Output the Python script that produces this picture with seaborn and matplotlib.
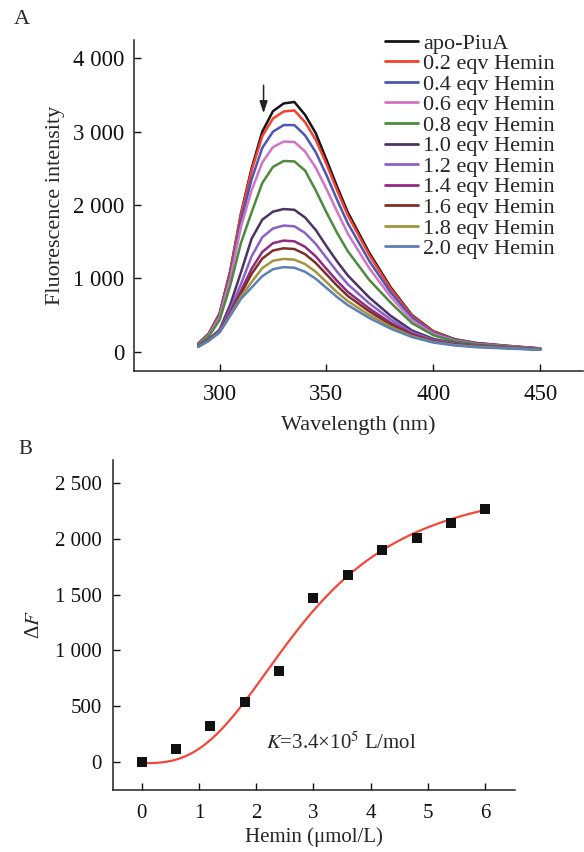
import numpy as np
import pandas as pd
import matplotlib
matplotlib.use("Agg")
import matplotlib.pyplot as plt
import seaborn as sns

# ---------------- Data ----------------
wavelength = [290, 295, 300, 305, 310, 315, 320, 325, 330, 335, 340, 345, 350,
              355, 360, 370, 380, 390, 400, 410, 420, 435, 450]

series_labels = ["apo-PiuA", "0.2 eqv Hemin", "0.4 eqv Hemin", "0.6 eqv Hemin",
                 "0.8 eqv Hemin", "1.0 eqv Hemin", "1.2 eqv Hemin", "1.4 eqv Hemin",
                 "1.6 eqv Hemin", "1.8 eqv Hemin", "2.0 eqv Hemin"]

apo   = [110, 250, 520, 1100, 1880, 2500, 3000, 3280, 3385, 3405, 3230, 2980, 2620, 2250, 1900, 1350, 880, 500, 280, 170, 120, 80, 45]
eq02  = [105, 245, 510, 1090, 1870, 2470, 2940, 3180, 3275, 3290, 3130, 2890, 2560, 2200, 1860, 1320, 860, 490, 275, 165, 115, 78, 44]
eq04  = [100, 235, 490, 1040, 1780, 2350, 2780, 3000, 3090, 3090, 2950, 2720, 2410, 2070, 1750, 1240, 810, 465, 260, 160, 112, 75, 42]
eq06  = [95, 225, 470, 990, 1700, 2200, 2580, 2790, 2865, 2860, 2730, 2510, 2220, 1910, 1610, 1140, 750, 430, 245, 150, 105, 72, 40]
eq08  = [90, 210, 430, 900, 1480, 1900, 2300, 2520, 2600, 2595, 2470, 2200, 1900, 1620, 1370, 980, 670, 390, 225, 140, 100, 68, 38]
eq10  = [75, 170, 300, 640, 1080, 1540, 1800, 1910, 1945, 1935, 1830, 1660, 1440, 1230, 1040, 740, 490, 290, 175, 115, 85, 60, 35]
eq12  = [72, 165, 285, 580, 920, 1300, 1560, 1680, 1720, 1710, 1620, 1470, 1280, 1090, 920, 660, 440, 265, 160, 108, 80, 57, 33]
eq14  = [70, 160, 275, 540, 830, 1130, 1360, 1480, 1515, 1505, 1430, 1300, 1130, 965, 815, 590, 395, 240, 148, 100, 75, 53, 31]
eq16  = [68, 155, 268, 510, 790, 1060, 1270, 1380, 1410, 1400, 1330, 1210, 1055, 900, 760, 550, 370, 228, 140, 95, 72, 51, 30]
eq18  = [66, 150, 262, 500, 750, 950, 1140, 1240, 1265, 1255, 1195, 1090, 950, 810, 690, 500, 340, 212, 132, 90, 68, 48, 28]
eq20  = [65, 150, 265, 490, 720, 875, 1030, 1125, 1153, 1145, 1090, 995, 870, 745, 635, 460, 315, 200, 125, 85, 62, 43, 25]
spectra = [apo, eq02, eq04, eq06, eq08, eq10, eq12, eq14, eq16, eq18, eq20]

line_colors = ["#151515", "#f5402f", "#4b57b3", "#d274c6", "#4c8a3c", "#4b3462",
               "#8a62c6", "#922a84", "#7f3026", "#a3953f", "#5d80b8"]

# Panel B
hemin = [0, 0.6, 1.2, 1.8, 2.4, 3.0, 3.6, 4.2, 4.8, 5.4, 6.0]
delta_f = [0, 120, 320, 536, 817, 1470, 1677, 1901, 2006, 2141, 2266]
# fitted Hill-type binding curve parameters (read from the drawn fit)
fit_f0, fit_fmax, fit_k, fit_n = -10.0, 2550.0, 2.85, 2.8

# ---------------- Style ----------------
sns.set_theme(style="ticks")
plt.rcParams["font.family"] = ["Liberation Serif", "DejaVu Serif"]
plt.rcParams["mathtext.fontset"] = "stix"
plt.rcParams["axes.linewidth"] = 1.1
plt.rcParams["axes.edgecolor"] = "#222222"

fig = plt.figure(figsize=(5.84, 8.52), dpi=100)
FSA = 16
FSA_T = 16.5
FSB = 15

# ---------------- Panel A ----------------
axA = fig.add_axes([134 / 584, 1 - 371 / 852, 449 / 584, 331 / 852])
rows = []
for lab, vals in zip(series_labels, spectra):
    for w, v in zip(wavelength, vals):
        rows.append((w, v, lab))
dfA = pd.DataFrame(rows, columns=["wl", "val", "series"])
sns.lineplot(data=dfA, x="wl", y="val", hue="series", hue_order=series_labels,
             palette=line_colors, linewidth=1.8, ax=axA)
axA.set_xlim(260, 470)
axA.set_ylim(-263, 4250)
axA.set_xticks([300, 350, 400, 450])
axA.set_yticks([0, 1000, 2000, 3000, 4000])
axA.set_yticklabels(["0", "1 000", "2 000", "3 000", "4 000"])
axA.set_xlabel("Wavelength (nm)", fontsize=FSA, labelpad=8)
axA.set_ylabel("Fluorescence intensity", fontsize=FSA, labelpad=6)
axA.tick_params(direction="in", length=5, width=1, labelsize=FSA_T, pad=7, colors="#111111")
axA.tick_params(axis="x", pad=9)
sns.despine(ax=axA)
leg = axA.legend(loc="upper left", bbox_to_anchor=(385 / 584, 1 - 33 / 852),
                 bbox_transform=fig.transFigure, frameon=False, fontsize=FSA,
                 handlelength=1.5, handletextpad=0.22, labelspacing=0.0,
                 borderpad=0, borderaxespad=0)
for h in leg.get_lines():
    h.set_linewidth(2.0)
axA.annotate("", xy=(320.6, 3213), xytext=(320.6, 3670),
             arrowprops=dict(arrowstyle="-|>,head_length=0.6,head_width=0.2",
                             color="#222222", lw=1.1))
fig.text(22 / 584, 1 - 20 / 852, "A", fontsize=FSA, ha="center", va="center")

# ---------------- Panel B ----------------
axB = fig.add_axes([113 / 584, 1 - 790 / 852, 402 / 584, 330 / 852])
xfit = np.linspace(0, 6, 200)
yfit = fit_f0 + fit_fmax * xfit ** fit_n / (fit_k ** fit_n + xfit ** fit_n)
sns.lineplot(x=xfit, y=yfit, color="#f4473a", linewidth=1.6, ax=axB)
sns.scatterplot(x=hemin, y=delta_f, marker="s", s=55, color="#111111",
                edgecolor="#111111", linewidth=0, ax=axB, zorder=3)
axB.set_xlim(-0.5, 6.52)
axB.set_ylim(-250, 2705)
axB.set_xticks([0, 1, 2, 3, 4, 5, 6])
axB.set_yticks([0, 500, 1000, 1500, 2000, 2500])
axB.set_yticklabels(["0", "500", "1 000", "1 500", "2 000", "2 500"])
axB.set_xlabel("Hemin (μmol/L)", fontsize=FSB, labelpad=3)
axB.set_ylabel("Δ$F$", fontsize=FSB, labelpad=8)
axB.tick_params(direction="in", length=5, width=1, labelsize=FSB, pad=8, colors="#111111")
axB.tick_params(axis="x", pad=10)
sns.despine(ax=axB)
axB.text(2.18, 170, "$K$=3.4×10$^5$ L/mol", fontsize=FSB, ha="left", va="center")
fig.text(25 / 584, 1 - 450 / 852, "B", fontsize=FSB, ha="center", va="center")

fig.savefig("out.png", dpi=100)
